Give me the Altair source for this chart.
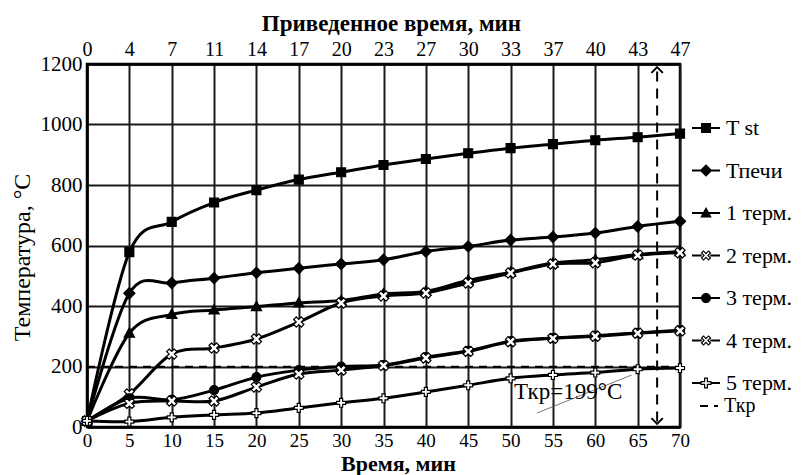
import json
import math
import altair as alt
import pandas as pd

# ---------------- data ----------------
time = [0, 5, 10, 15, 20, 25, 30, 35, 40, 45, 50, 55, 60, 65, 70]
reduced_time = ["0", "4", "7", "11", "14", "17", "20", "23", "27", "30", "33", "37", "40", "43", "47"]

series_names = ["T st", "Тпечи", "1 терм.", "2 терм.", "3 терм.", "4 терм.", "5 терм."]
t_st = [20, 578, 678, 742, 783, 818, 842, 866, 886, 905, 922, 935, 948, 958, 970]
t_pechi = [20, 442, 476, 492, 510, 525, 539, 553, 580, 597, 618, 628, 641, 663, 680]
term1 = [20, 310, 372, 387, 398, 410, 418, 440, 448, 485, 512, 542, 553, 570, 580]
term2 = [20, 109, 241, 261, 291, 347, 410, 433, 443, 476, 509, 539, 543, 568, 576]
term3 = [20, 95, 90, 122, 165, 188, 200, 205, 231, 252, 284, 294, 302, 311, 320]
term4 = [20, 78, 86, 86, 132, 175, 188, 203, 228, 250, 282, 293, 300, 310, 318]
term5 = [20, 18, 32, 40, 46, 63, 80, 95, 116, 138, 161, 172, 180, 191, 195]
series_values = [t_st, t_pechi, term1, term2, term3, term4, term5]

t_cr_name = "Ткр"
t_cr_value = 199
t_cr_span = [0, 70]

arrow_time = 67.3
arrow_span = [18, 1182]

note_text = "Ткр=199°С"
note_time = 56.8
note_temp = 116
leader_time = [53.1, 64.3]
leader_temp = [46, 172]

# ---------------- marker shapes (styling) ----------------
def poly(pts, k=1.0, reverse=False):
    p = list(reversed(pts)) if reverse else pts
    return "M" + "L".join(f"{x * k:.3f},{y * k:.3f}" for x, y in p) + "Z"

def rot45(pts):
    c = math.sqrt(0.5)
    return [((x - y) * c, (x + y) * c) for x, y in pts]

def plus_shape(a, e):
    return [(-e, -a), (-a, -a), (-a, -e), (a, -e), (a, -a), (e, -a),
            (e, a), (a, a), (a, e), (-a, e), (-a, a), (-e, a)]

A = 0.34
plus_pts = plus_shape(A, 1.0)
square_pts = [(-1, -1), (1, -1), (1, 1), (-1, 1)]
diamond_pts = [(0, -1.25), (1.25, 0), (0, 1.25), (-1.25, 0)]
tri_pts = [(0, -1.2), (1.15, 0.9), (-1.15, 0.9)]
x_pts = [(x * 1.2, y * 1.2) for x, y in rot45(plus_pts)]

def circle(r):
    return f"M{-r:.3f},0A{r:.3f},{r:.3f} 0 1,1 {r:.3f},0A{r:.3f},{r:.3f} 0 1,1 {-r:.3f},0Z"

def marker(kind, k):
    if kind == "circle":
        return circle(1.0 * k)
    pts = {"square": square_pts, "diamond": diamond_pts, "tri": tri_pts,
           "x": x_pts, "plus": plus_pts}[kind]
    return poly(pts, k)

kinds = ["square", "diamond", "tri", "x", "circle", "x", "plus"]
fills = ["black", "black", "black", "white", "black", "white", "white"]
chart_paths = [marker(k, 1.0) for k in kinds]

leg_k = 0.36
t = 0.085
stub_h = 0.08
legend_paths = []
for k in kinds:
    if k in ("x", "plus"):
        gap = 0.36 if k == "plus" else 0.3
        stub = poly([(-1, -stub_h), (-gap, -stub_h), (-gap, stub_h), (-1, stub_h)]) + \
            poly([(gap, -stub_h), (1, -stub_h), (1, stub_h), (gap, stub_h)])
        outer = plus_shape(A * leg_k * 1.15, leg_k * 1.1)
        inner = plus_shape(A * leg_k * 1.15 - t, leg_k * 1.1 - t)
        if k == "x":
            outer = rot45(outer)
            inner = rot45(inner)
        legend_paths.append(stub + poly(outer) + poly(inner, reverse=True))
    else:
        stub = poly([(-1, -stub_h), (1, -stub_h), (1, stub_h), (-1, stub_h)])
        legend_paths.append(stub + marker(k, leg_k))

# ---------------- tables ----------------
rows = []
for name, vals in zip(series_names, series_values):
    for tt, v in zip(time, vals):
        rows.append({"series": name, "time": tt, "temp": v})
df = pd.DataFrame(rows)

cr_df = pd.DataFrame({"name": [t_cr_name], "t0": [t_cr_span[0]], "t1": [t_cr_span[1]], "temp": [t_cr_value]})
arrow_df = pd.DataFrame({"time": [arrow_time], "y0": [arrow_span[0]], "y1": [arrow_span[1]]})
note_df = pd.DataFrame({"time": [note_time], "temp": [note_temp], "label": [note_text]})
leader_df = pd.DataFrame({"time": leader_time, "temp": leader_temp})

FONT = "Liberation Serif"
xscale = alt.Scale(domain=[0, 70], nice=False, zero=False)
yscale = alt.Scale(domain=[0, 1200], nice=False)

x_bottom = alt.Axis(values=time, title="Время, мин", labelFontSize=19, labelPadding=4,
                    titleFontSize=22, titleFontWeight="bold", titlePadding=3, grid=True,
                    labelFlush=False, titleX=311)
x_top = alt.Axis(orient="top", values=time, title="Приведенное время, мин", labelFontSize=20,
                 labelPadding=5, titleFontSize=23, titleFontWeight="bold", titlePadding=4,
                 grid=False, labelFlush=False, titleX=304,
                 labelExpr=json.dumps(reduced_time, ensure_ascii=False) + "[round(datum.value/5)]")
y_axis = alt.Axis(values=list(range(0, 1201, 200)), format="d", title="Температура, °С",
                  labelFontSize=21, labelPadding=5, titleFontSize=24, titleFontWeight="normal",
                  titlePadding=6, grid=True, labelFlush=False, titleY=193)

lines = alt.Chart(df).mark_line(interpolate="cardinal", color="black", strokeWidth=3).encode(
    x=alt.X("time:Q", scale=xscale, axis=x_bottom),
    y=alt.Y("temp:Q", scale=yscale, axis=y_axis),
    detail="series:N",
)

points = alt.Chart(df).mark_point(filled=True, stroke="black", strokeWidth=1.2, opacity=1, size=80).encode(
    x=alt.X("time:Q", scale=xscale, axis=None),
    y=alt.Y("temp:Q", scale=yscale, axis=None),
    shape=alt.Shape("series:N", scale=alt.Scale(domain=series_names, range=chart_paths), legend=None),
    fill=alt.Fill("series:N", scale=alt.Scale(domain=series_names, range=fills), legend=None),
)

leg = alt.Legend(orient="none", legendX=605, legendY=50, title=None, labelFont=FONT,
                 labelFontSize=22, labelColor="black", symbolSize=784, symbolStrokeWidth=0,
                 symbolFillColor="black", symbolOpacity=1, rowPadding=17.5, labelOffset=6, padding=0)
dummy = alt.Chart(df).mark_point(filled=True, color="black", opacity=0, size=784).encode(
    x=alt.X("time:Q", scale=xscale, axis=x_top),
    y=alt.Y("temp:Q", scale=yscale, axis=None),
    shape=alt.Shape("series:N", scale=alt.Scale(domain=series_names, range=legend_paths), legend=leg),
)

cr_rule = alt.Chart(cr_df).mark_rule(color="black", strokeWidth=2).encode(
    x=alt.X("t0:Q", scale=xscale, axis=None),
    x2="t1:Q",
    y=alt.Y("temp:Q", scale=yscale, axis=None),
    strokeDash=alt.StrokeDash("name:N", scale=alt.Scale(domain=[t_cr_name], range=[[8, 6]]),
                              legend=alt.Legend(orient="none", legendX=612, legendY=332, title=None,
                                                labelFont=FONT, labelFontSize=20, labelColor="black",
                                                symbolType="stroke", symbolSize=324, symbolStrokeWidth=2,
                                                symbolStrokeColor="black", symbolDash=[6, 4],
                                                labelOffset=5, padding=0)),
)

arrow = alt.Chart(arrow_df).mark_rule(color="black", strokeWidth=2, strokeDash=[10, 7]).encode(
    x=alt.X("time:Q", scale=xscale, axis=None),
    y=alt.Y("y0:Q", scale=yscale, axis=None),
    y2="y1:Q",
)
arrow_top = alt.Chart(arrow_df).mark_point(filled=False, stroke="black", strokeWidth=2, size=130, opacity=1,
                                          shape="M-1,0.6L0,-0.4L1,0.6").encode(
    x=alt.X("time:Q", scale=xscale, axis=None),
    y=alt.Y("y1:Q", scale=yscale, axis=None),
)
arrow_bot = alt.Chart(arrow_df).mark_point(filled=False, stroke="black", strokeWidth=2, size=130, opacity=1,
                                          shape="M-1,-0.6L0,0.4L1,-0.6").encode(
    x=alt.X("time:Q", scale=xscale, axis=None),
    y=alt.Y("y0:Q", scale=yscale, axis=None),
)

leader = alt.Chart(leader_df).mark_line(color="#555555", strokeWidth=0.8).encode(
    x=alt.X("time:Q", scale=xscale, axis=None),
    y=alt.Y("temp:Q", scale=yscale, axis=None),
)
note = alt.Chart(note_df).mark_text(font=FONT, fontSize=23, color="black", align="center",
                                    baseline="middle").encode(
    x=alt.X("time:Q", scale=xscale, axis=None),
    y=alt.Y("temp:Q", scale=yscale, axis=None),
    text="label:N",
)

chart = alt.layer(lines, cr_rule, arrow, arrow_top, arrow_bot, leader, note, points, dummy).resolve_scale(
    shape="independent", fill="independent"
).resolve_axis(x="independent", y="independent").properties(
    width=593, height=363,
    autosize=alt.AutoSizeParams(type="none"),
    padding={"left": 79, "top": 56, "right": 118, "bottom": 48},
).configure_axis(
    labelFont=FONT, titleFont=FONT, labelColor="black", titleColor="black",
    gridColor="#1a1a1a", gridWidth=2, gridOpacity=1, domainColor="black", domainWidth=2.5,
    ticks=False,
).configure_view(stroke="black", strokeWidth=2.5)

chart.save("out.html", embed_options={"renderer": "svg", "actions": False})
